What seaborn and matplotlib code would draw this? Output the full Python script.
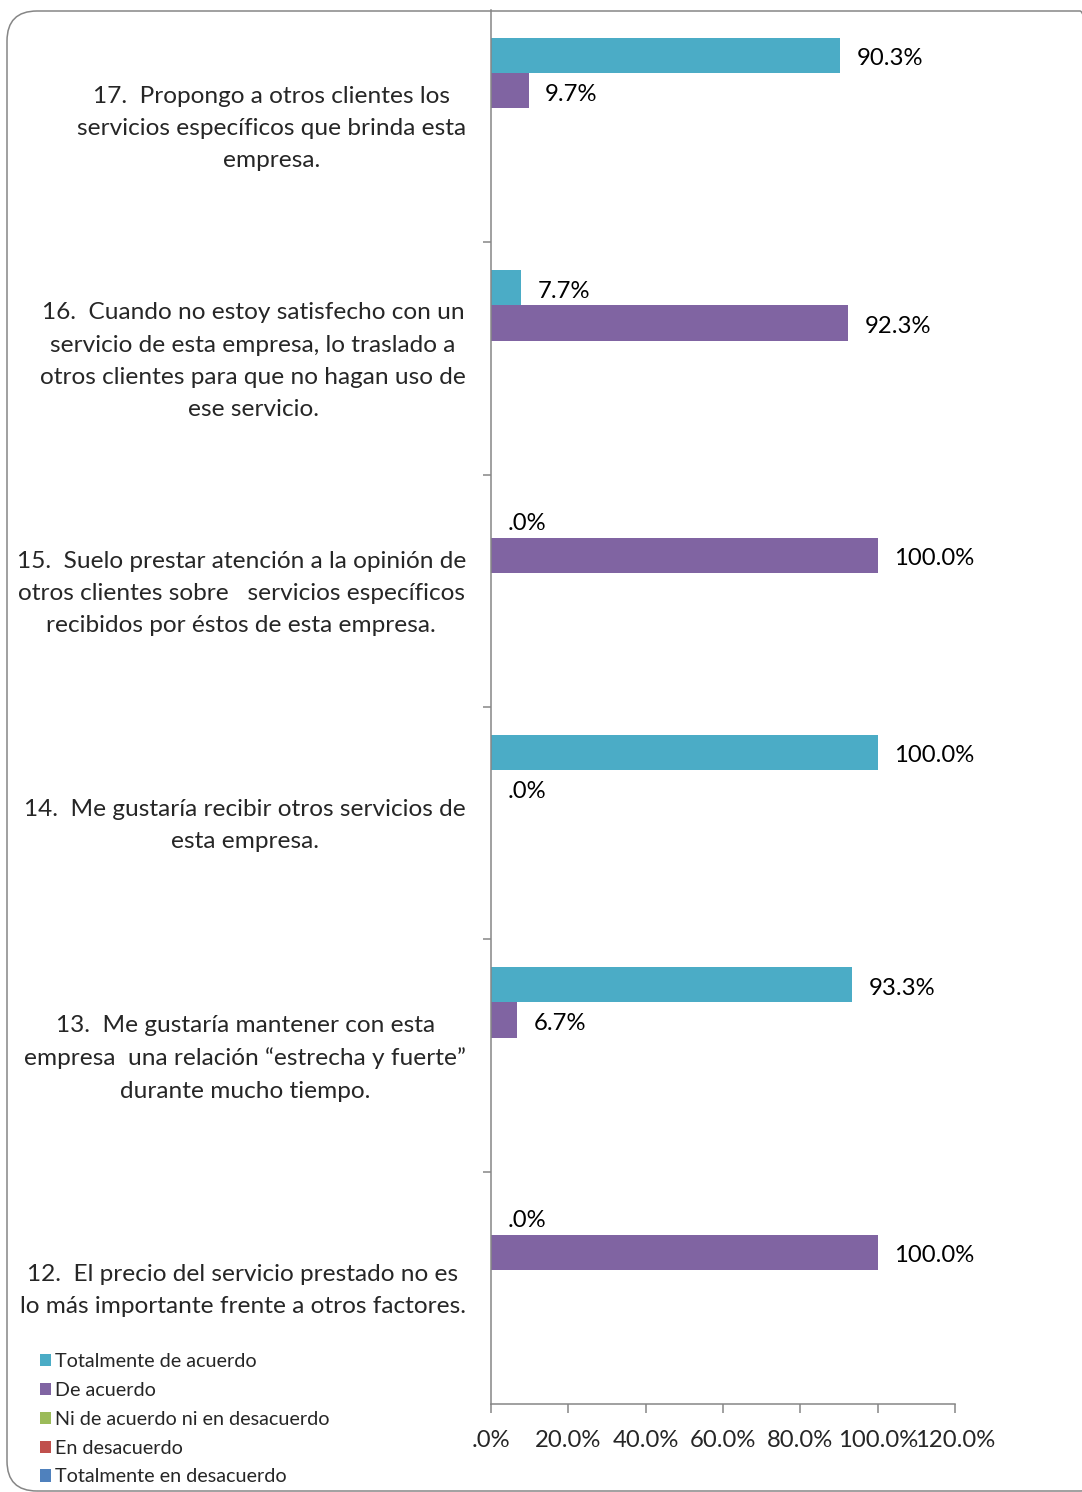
import numpy as np
import pandas as pd
import seaborn as sns
import matplotlib.pyplot as plt
from matplotlib.patches import FancyBboxPatch, Patch
from matplotlib.ticker import FixedLocator
from matplotlib.transforms import Affine2D

sns.set_theme(style="white")
plt.rcParams["font.family"] = ["Lato", "DejaVu Sans"]

# Survey items (top to bottom)
categories = [
    "17.  Propongo a otros clientes los\nservicios específicos que brinda esta\nempresa.",
    "16.  Cuando no estoy satisfecho con un\nservicio de esta empresa, lo traslado a\notros clientes para que no hagan uso de\nese servicio.",
    "15.  Suelo prestar atención a la opinión de\notros clientes sobre   servicios específicos\nrecibidos por éstos de esta empresa.",
    "14.  Me gustaría recibir otros servicios de\nesta empresa.",
    "13.  Me gustaría mantener con esta\nempresa  una relación “estrecha y fuerte”\ndurante mucho tiempo.",
    "12.  El precio del servicio prestado no es\nlo más importante frente a otros factores.",
]

series_names = [
    "Totalmente de acuerdo",
    "De acuerdo",
    "Ni de acuerdo ni en desacuerdo",
    "En desacuerdo",
    "Totalmente en desacuerdo",
]

# Percentages per answer option
totalmente_de_acuerdo = [90.3, 7.7, 0.0, 100.0, 93.3, 0.0]
de_acuerdo = [9.7, 92.3, 100.0, 0.0, 6.7, 100.0]
ni_de_acuerdo_ni_en_desacuerdo = [0.0, 0.0, 0.0, 0.0, 0.0, 0.0]
en_desacuerdo = [0.0, 0.0, 0.0, 0.0, 0.0, 0.0]
totalmente_en_desacuerdo = [0.0, 0.0, 0.0, 0.0, 0.0, 0.0]

x_ticks = [0, 20, 40, 60, 80, 100, 120]
x_tick_labels = [".0%", "20.0%", "40.0%", "60.0%", "80.0%", "100.0%", "120.0%"]

colors = ["#4BACC6", "#8064A2", "#9BBB59", "#C0504D", "#4F81BD"]

all_series = [totalmente_de_acuerdo, de_acuerdo, ni_de_acuerdo_ni_en_desacuerdo,
              en_desacuerdo, totalmente_en_desacuerdo]
rows = []
for name, vals in zip(series_names, all_series):
    for cat, v in zip(categories, vals):
        rows.append({"item": cat, "respuesta": name, "pct": v})
df = pd.DataFrame(rows)

W, H, DPI = 1082, 1492, 100
fig = plt.figure(figsize=(W / DPI, H / DPI), dpi=DPI)
fig.patch.set_facecolor("white")

# Rounded outer frame
frame = FancyBboxPatch((7 / DPI, (H - 1491) / DPI), (1110 - 7) / DPI, (1491 - 11) / DPI,
                       boxstyle="round,pad=0,rounding_size=0.3",
                       transform=fig.dpi_scale_trans, facecolor="none",
                       edgecolor="#868686", linewidth=1.1)
fig.patches.append(frame)

ax_left, ax_right, ax_top, ax_bottom = 491, 955, 10, 1404
ax = fig.add_axes([ax_left / W, 1 - ax_bottom / H, (ax_right - ax_left) / W, (ax_bottom - ax_top) / H])
ax.set_facecolor("none")

sns.barplot(data=df, y="item", x="pct", hue="respuesta", order=categories,
            hue_order=series_names, palette=colors, saturation=1, orient="h", width=0.763,
            linewidth=0, errorbar=None, legend=False, ax=ax)

label_font = 17.2
for cont in ax.containers[:2]:
    vals = cont.datavalues
    labels = [".0%" if v == 0 else f"{v:.1f}%" for v in vals]
    texts = ax.bar_label(cont, labels=labels, padding=12, fontsize=label_font, color="#000000")
    for t in texts:
        t.xyann = (12, -2.5)

ax.set_xlim(0, 120)
ax.set_ylim(len(categories) - 0.5, -0.5)
ax.set_xticks(x_ticks)
ax.set_xticklabels(x_tick_labels, fontsize=label_font)
ax.set_xlabel("")
ax.set_ylabel("")

ax.set_yticks(range(len(categories)))
ax.set_yticklabels(categories, fontsize=17.6, ha="right", multialignment="center",
                   linespacing=1.66)
ax.yaxis.set_minor_locator(FixedLocator(np.arange(0.5, len(categories) - 0.5, 1.0)))
ax.tick_params(axis="y", which="major", length=0, pad=18)
ax.tick_params(axis="y", which="minor", length=5.5, width=1.1, color="#868686", direction="out", left=True)
ax.tick_params(axis="x", which="major", length=6.5, width=1.1, color="#868686", direction="out",
               bottom=True, pad=12)

# nudge the wrapped item labels up a little
for tick in ax.yaxis.get_major_ticks():
    lab = tick.label1
    lab.set_transform(lab.get_transform() + Affine2D().translate(0, 5))

for s in ["top", "right"]:
    ax.spines[s].set_visible(False)
for s in ["left", "bottom"]:
    ax.spines[s].set_color("#868686")
    ax.spines[s].set_linewidth(1.1)
ax.grid(False)

handles = [Patch(facecolor=c, edgecolor="none") for c in colors]
fig.legend(handles, series_names, loc="upper left",
           bbox_to_anchor=(40 / W, 1 - 1353 / H), frameon=False, fontsize=14.25,
           handlelength=0.56, handleheight=0.56, handletextpad=0.2,
           labelspacing=0.6, borderpad=0, borderaxespad=0)

fig.savefig("out.png", dpi=DPI, facecolor="white")
